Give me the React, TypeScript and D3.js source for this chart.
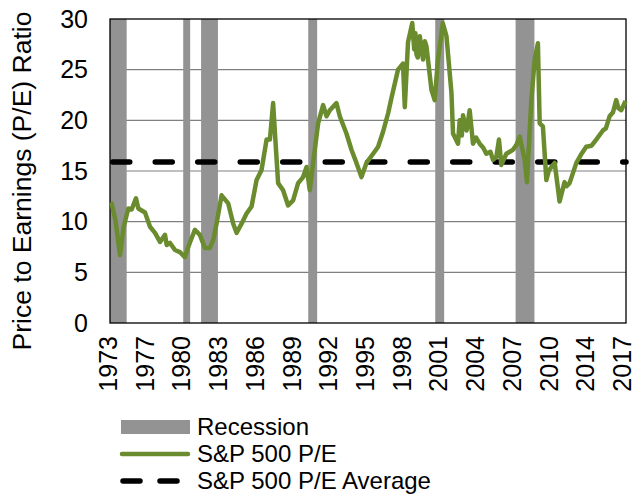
import React, { useEffect, useRef } from 'react';
import * as d3 from 'd3';

// monthly S&P 500 P/E readings, [decimal year, ratio]
const peYears = [
  1973.92, 1973.99, 1974.3, 1974.69, 1975.0, 1975.39, 1975.67, 1976.03, 1976.23, 1976.79,
  1977.21, 1977.63, 1978.05, 1978.47, 1978.61, 1978.89, 1979.31, 1979.72, 1980.14, 1980.42,
  1980.98, 1981.4, 1981.82, 1982.24, 1982.52, 1982.8, 1983.22, 1983.78, 1984.2, 1984.48,
  1984.9, 1985.32, 1985.74, 1986.16, 1986.58, 1987.0, 1987.28, 1987.55, 1987.76, 1987.97,
  1988.39, 1988.81, 1989.23, 1989.65, 1990.07, 1990.36, 1990.63, 1991.05, 1991.33, 1991.75,
  1992.04, 1992.31, 1992.87, 1993.15, 1993.71, 1994.13, 1994.55, 1994.97, 1995.39, 1995.95,
  1996.37, 1996.79, 1997.21, 1997.49, 1998.04, 1998.46, 1998.61, 1998.88, 1999.24, 1999.4,
  1999.5, 1999.59, 1999.7, 1999.87, 2000.14, 2000.3, 2000.43, 2000.85, 2001.12, 2001.4,
  2001.8, 2002.11, 2002.53, 2002.66, 2003.08, 2003.22, 2003.4, 2003.5, 2003.64, 2003.8,
  2004.06, 2004.34, 2004.6, 2004.9, 2005.2, 2005.46, 2005.8, 2006.02, 2006.3, 2006.52,
  2006.72, 2007.14, 2007.7, 2008.0, 2008.26, 2008.68, 2008.87, 2009.24, 2009.52, 2009.79,
  2009.94, 2010.21, 2010.5, 2010.7, 2010.92, 2011.2, 2011.61, 2012.03, 2012.2, 2012.45,
  2013.02, 2013.4, 2013.85, 2014.3, 2014.69, 2015.25, 2015.5, 2015.81, 2016.1, 2016.37,
  2016.55, 2016.79, 2017.15,
];
const peValues = [
  11.9, 11.8, 10.2, 6.7, 9.5, 11.3, 11.2, 12.3, 11.3, 10.9,
  9.5, 8.9, 8.0, 8.7, 7.7, 7.9, 7.2, 7.0, 6.5, 7.5,
  9.2, 8.7, 7.4, 7.4, 8.2, 9.8, 12.6, 11.8, 9.8, 8.9,
  9.8, 10.8, 11.5, 14.1, 15.1, 18.1, 18.1, 21.7, 17.7, 13.8,
  13.1, 11.6, 12.1, 13.8, 14.4, 15.4, 13.1, 17.1, 19.7, 21.5,
  20.4, 21.0, 21.7, 20.4, 18.7, 17.1, 15.8, 14.4, 15.8, 16.7,
  17.4, 18.9, 20.7, 22.2, 25.0, 25.6, 21.3, 27.7, 29.6, 27.0,
  28.6, 26.5, 26.2, 28.3, 26.0, 27.8, 27.3, 23.0, 22.0, 26.0,
  29.6, 28.3, 22.7, 18.7, 17.7, 20.0, 18.5, 20.5, 19.7, 19.0,
  21.0, 17.7, 18.3, 17.7, 17.3, 16.7, 16.9, 16.1, 16.4, 18.1,
  15.6, 16.7, 17.1, 17.6, 18.4, 16.1, 13.9, 22.0, 26.0, 27.6,
  19.7, 19.4, 14.1, 15.0, 15.4, 15.8, 12.0, 13.9, 13.5, 13.8,
  15.8, 16.6, 17.4, 17.5, 18.1, 19.0, 19.2, 20.4, 20.8, 22.0,
  21.2, 21.0, 21.9,
];
const peAverage = 15.9;

// NBER recessions, [start month, end month]
const recessions = [
  ['1973-11', '1975-03'],
  ['1980-01', '1980-07'],
  ['1981-07', '1982-11'],
  ['1990-07', '1991-03'],
  ['2001-03', '2001-11'],
  ['2007-12', '2009-06'],
];

// category labels shown every 37 months
const tickMonths = [
  '1973-12', '1977-01', '1980-02', '1983-03', '1986-04', '1989-05', '1992-06', '1995-07',
  '1998-08', '2001-09', '2004-10', '2007-11', '2010-12', '2014-01', '2017-02',
];
const yTicks = [0, 5, 10, 15, 20, 25, 30];

const monthToYear = (s: string) => {
  const [y, m] = s.split('-').map(Number);
  return y + (m - 1) / 12;
};

const GREEN = '#6a8c2e';
const GREY = '#939393';
const FONT = '"Liberation Sans", Arial, sans-serif';

const App: React.FC = () => {
  const svgRef = useRef<SVGSVGElement>(null);

  useEffect(() => {
    if (!svgRef.current) return;
    const svg = d3.select(svgRef.current);
    svg.selectAll('*').remove();

    const left = 110, right = 626, top = 19, bottom = 323;

    const x = d3.scaleLinear().domain([1973.85, 2017.19]).range([left, right]);
    const y = d3.scaleLinear().domain([0, 30]).range([bottom, top]);

    // grid lines
    svg.append('g')
      .selectAll('line')
      .data(yTicks.filter(t => t > 0 && t < 30))
      .join('line')
      .attr('x1', left).attr('x2', right)
      .attr('y1', d => y(d)).attr('y2', d => y(d))
      .attr('stroke', '#808080')
      .attr('stroke-width', 1.2);

    // recession bands
    svg.append('g')
      .selectAll('rect')
      .data(recessions)
      .join('rect')
      .attr('x', d => Math.max(left, x(monthToYear(d[0]))))
      .attr('width', d => x(monthToYear(d[1]) + 1 / 12) - Math.max(left, x(monthToYear(d[0]))))
      .attr('y', top)
      .attr('height', bottom - top)
      .attr('fill', GREY);

    // plot border
    svg.append('rect')
      .attr('x', left).attr('y', top)
      .attr('width', right - left).attr('height', bottom - top)
      .attr('fill', 'none')
      .attr('stroke', '#000')
      .attr('stroke-width', 1.3);

    // average line
    svg.append('line')
      .attr('x1', left + 2.75).attr('x2', right)
      .attr('y1', y(peAverage)).attr('y2', y(peAverage))
      .attr('stroke', '#000')
      .attr('stroke-width', 5.5)
      .attr('stroke-linecap', 'round')
      .attr('stroke-dasharray', '17,25.5');

    // P/E line
    const line = d3.line<number>()
      .x((d, i) => x(peYears[i]))
      .y(d => y(d));
    svg.append('path')
      .datum(peValues)
      .attr('d', line)
      .attr('fill', 'none')
      .attr('stroke', GREEN)
      .attr('stroke-width', 4.5)
      .attr('stroke-linejoin', 'round');

    // y tick labels
    svg.append('g')
      .selectAll('text')
      .data(yTicks)
      .join('text')
      .attr('x', 88)
      .attr('y', d => y(d))
      .attr('dy', '0.35em')
      .attr('text-anchor', 'end')
      .attr('font-family', FONT)
      .attr('font-size', 25)
      .attr('fill', '#000')
      .text(d => d);

    // x tick labels (rotated)
    svg.append('g')
      .selectAll('text')
      .data(tickMonths)
      .join('text')
      .attr('transform', d => `translate(${x(monthToYear(d)) - 2.5},336) rotate(-90)`)
      .attr('dy', '0.35em')
      .attr('text-anchor', 'end')
      .attr('font-family', FONT)
      .attr('font-size', 25)
      .attr('fill', '#000')
      .text(d => d.slice(0, 4));

    // y title
    svg.append('text')
      .attr('transform', 'translate(22,181) rotate(-90)')
      .attr('dy', '0.35em')
      .attr('text-anchor', 'middle')
      .attr('font-family', FONT)
      .attr('font-size', 26.5)
      .attr('fill', '#000')
      .text('Price to Earnings (P/E) Ratio');

    // legend
    const lg = svg.append('g').attr('font-family', FONT).attr('font-size', 24);
    const rowY = [427, 454, 481];
    lg.append('rect')
      .attr('x', 121).attr('y', rowY[0] - 7)
      .attr('width', 69).attr('height', 14)
      .attr('fill', GREY);
    lg.append('line')
      .attr('x1', 122).attr('x2', 188)
      .attr('y1', rowY[1]).attr('y2', rowY[1])
      .attr('stroke', GREEN).attr('stroke-width', 4.5)
      .attr('stroke-linecap', 'round');
    lg.append('line')
      .attr('x1', 123).attr('x2', 190)
      .attr('y1', rowY[2]).attr('y2', rowY[2])
      .attr('stroke', '#000').attr('stroke-width', 5.5)
      .attr('stroke-linecap', 'round')
      .attr('stroke-dasharray', '17,20');
    ['Recession', 'S&P 500 P/E', 'S&P 500 P/E Average'].forEach((t, i) => {
      lg.append('text')
        .attr('x', 197).attr('y', rowY[i])
        .attr('dy', '0.35em')
        .attr('fill', '#000')
        .text(t);
    });
  }, []);

  return (
    <svg
      ref={svgRef}
      width={635}
      height={494}
      style={{ position: 'absolute', left: 0, top: 0, background: '#fff' }}
    />
  );
};

export default App;
